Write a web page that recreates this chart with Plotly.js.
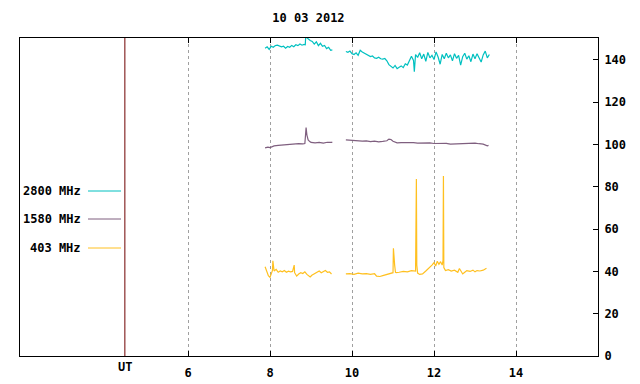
<!DOCTYPE html>
<html><head><meta charset="utf-8">
<script src="https://cdn.plot.ly/plotly-3.0.1.min.js"></script>
<style>html,body{margin:0;padding:0;background:#fff}#chart{width:640px;height:384px}</style>
</head><body><div id="chart"></div>
<script>
// Time in UT hours; null splits the gap in observation
var hours2800 = [7.88,7.93,7.98,8.03,8.08,8.13,8.18,8.23,8.28,8.33,8.38,8.43,8.48,8.53,8.58,8.63,8.68,8.73,8.78,8.83,8.86,8.87,8.93,8.98,9.03,9.08,9.13,9.18,9.23,9.28,9.33,9.38,9.43,9.48,9.52,
  9.60,
  9.85,9.90,9.95,10.00,10.05,10.10,10.15,10.20,10.25,10.30,10.35,10.40,10.45,10.50,10.55,10.60,10.65,10.70,10.75,10.80,10.85,10.90,10.95,11.00,11.05,11.10,11.15,11.20,11.25,11.30,11.35,11.40,11.45,11.50,11.52,11.55,11.60,11.65,11.70,11.75,11.80,11.85,11.90,11.95,12.00,12.05,12.10,12.15,12.20,12.25,12.30,12.35,12.40,12.45,12.50,12.55,12.60,12.65,12.70,12.75,12.80,12.85,12.90,12.95,13.00,13.05,13.10,13.15,13.20,13.25,13.30,13.35];
var flux2800 = [145.5,146.2,145.0,146.5,146.0,146.8,147.0,146.7,146.2,146.5,145.6,146.4,146.0,146.9,146.3,147.2,146.8,147.6,147.0,147.4,147.2,151,150,149.2,148.8,147.5,148.6,146.8,147.9,146.5,146.9,145.4,146.0,144.6,144.8,
  null,
  144.0,143.6,144.2,143.0,142.6,143.4,142.2,144.6,143.8,143.2,142.7,142.0,141.6,141.9,141.0,140.8,141.3,140.6,140.4,140.7,139.6,137.8,137.0,136.2,137.4,135.9,136.6,137.2,136.4,138.2,137.6,139.5,141.8,139.8,134.5,142.6,141.2,143.4,140.6,142.8,139.4,143.6,141.0,142.2,140.2,143.8,141.4,138.0,142.6,140.6,143.2,141.0,142.4,139.6,143.0,140.8,142.2,137.6,141.6,143.2,140.4,142.0,139.2,142.8,140.6,143.0,141.2,139.0,142.4,144.2,141.0,142.6];

var hours1580 = [7.88,7.95,8.0,8.1,8.2,8.3,8.4,8.5,8.6,8.7,8.8,8.85,8.87,8.88,8.9,8.93,8.97,9.0,9.1,9.2,9.3,9.4,9.5,9.52,
  9.60,
  9.85,9.95,10.05,10.15,10.25,10.35,10.45,10.55,10.65,10.75,10.85,10.9,10.95,11.0,11.05,11.1,11.2,11.3,11.4,11.5,11.6,11.7,11.8,11.9,12.0,12.1,12.2,12.3,12.4,12.5,12.6,12.7,12.8,12.9,13.0,13.1,13.2,13.3,13.33];
var flux1580 = [98.4,98.8,98.6,99.4,99.6,99.8,100.0,100.2,100.1,100.4,100.3,100.5,105.5,108.0,104.5,102.2,101.4,101.0,100.8,101.0,100.7,101.1,101.0,101.2,
  null,
  102.2,102.0,101.8,101.9,101.6,101.7,101.4,101.6,101.3,101.5,101.8,102.6,102.4,101.6,101.0,100.8,100.9,101.0,100.8,100.9,100.7,100.8,100.6,100.8,100.5,100.6,100.4,100.6,100.2,100.3,100.5,100.4,100.6,100.5,100.7,100.4,100.2,99.4,99.6];

var hours403 = [7.88,7.90,7.93,7.96,8.0,8.03,8.06,8.07,8.10,8.15,8.20,8.25,8.30,8.35,8.40,8.45,8.50,8.55,8.59,8.60,8.65,8.70,8.75,8.80,8.85,8.90,8.95,8.98,9.02,9.08,9.15,9.20,9.25,9.30,9.35,9.40,9.45,9.50,
  9.60,
  9.85,9.95,10.05,10.15,10.25,10.35,10.45,10.55,10.60,10.68,10.75,10.82,10.90,10.97,11.00,11.01,11.02,11.04,11.06,11.08,11.15,11.25,11.35,11.45,11.55,11.57,11.58,11.60,11.65,11.72,11.80,11.85,11.90,11.95,12.00,12.04,12.08,12.12,12.16,12.20,12.22,12.23,12.24,12.28,12.35,12.42,12.50,12.58,12.62,12.66,12.70,12.75,12.80,12.88,12.95,13.00,13.05,13.12,13.20,13.28,13.35];
var flux403 = [42.2,41.0,39.2,38.0,37.2,39.0,40.5,45.0,40.2,41.0,39.6,40.2,39.8,40.4,39.6,40.1,39.8,40.0,43.0,39.4,37.8,38.8,39.4,39.0,39.8,38.6,38.0,37.4,38.2,39.0,39.6,40.2,39.4,40.0,40.4,39.6,39.8,38.8,
  null,
  38.8,39.0,38.6,39.2,38.8,39.0,38.6,38.9,37.8,37.6,38.0,38.4,38.8,39.0,39.4,51.0,45.0,43.0,39.6,39.4,39.6,40.0,39.8,40.4,40.2,83.7,43.0,39.2,38.6,38.8,40.2,41.0,42.0,43.0,44.2,42.6,44.8,43.4,44.6,43.0,45.2,85.1,41.8,40.4,40.8,40.2,40.6,39.6,41.4,40.2,38.8,39.6,40.4,40.0,40.6,39.8,40.4,40.2,40.6,41.5];

var seriesNames = ['2800 MHz','1580 MHz','403 MHz'];
var seriesColors = ['#00c0c0','#7f5f7f','#ffc020'];
var xTickVals = [6,8,10,12,14];
var yTickVals = [0,20,40,60,80,100,120,140];
var utPosition = 4.46;
var titleText = '10 03 2012';

var font = {family:'DejaVu Sans Mono, Liberation Mono, monospace', size:12, color:'#000'};

var traces = [
  {x:hours2800, y:flux2800, name:seriesNames[0], line:{color:seriesColors[0], width:1.2}},
  {x:hours1580, y:flux1580, name:seriesNames[1], line:{color:seriesColors[1], width:1.2}},
  {x:hours403, y:flux403, name:seriesNames[2], line:{color:seriesColors[2], width:1.2}}
].map(function(t){t.type='scatter'; t.mode='lines'; t.connectgaps=false; t.hoverinfo='skip'; return t;});

var shapes = [
  {type:'line', xref:'x', yref:'paper', x0:utPosition, x1:utPosition, y0:0, y1:1, line:{color:'#700000', width:1}}
];
var annotations = [
  {xref:'x', yref:'paper', x:utPosition, y:0, yshift:-20, text:'<b>UT</b>', showarrow:false, font:font}
];
var legendY = [191,219,248];
for (var i=0;i<3;i++){
  var py = 1 - (legendY[i]-38)/318;
  shapes.push({type:'line', xref:'paper', yref:'paper', x0:(88-20)/578, x1:(121-20)/578, y0:py, y1:py, line:{color:seriesColors[i], width:1}});
  annotations.push({xref:'paper', yref:'paper', x:(83-20)/578, y:py, xanchor:'right', yanchor:'middle', text:'<b>'+seriesNames[i]+'</b>', showarrow:false, font:font});
}

var layout = {
  width:640, height:384,
  margin:{l:20, r:42, t:38, b:28},
  paper_bgcolor:'#fff', plot_bgcolor:'#fff',
  showlegend:false,
  font:font,
  title:{text:'<b>'+titleText+'</b>', font:font, x:0.482, xanchor:'center', y:1-18/384, yanchor:'middle', yref:'container'},
  xaxis:{range:[1.902,16.0], tickvals:xTickVals, ticktext:xTickVals.map(String), ticks:'inside', ticklen:5, tickcolor:'#000',
    ticklabelstandoff:6,
    showgrid:true, gridcolor:'#a0a0a0', griddash:'dot', gridwidth:1, zeroline:false,
    showline:true, linecolor:'#000', linewidth:1, mirror:'ticks', tickfont:{family:font.family,size:12,color:'#000',weight:'bold'}},
  yaxis:{range:[0,150.4], side:'right', tickvals:yTickVals, ticks:'inside', ticklen:5, tickcolor:'#000',
    ticklabelstandoff:3,
    showgrid:false, zeroline:false, showline:true, linecolor:'#000', linewidth:1, mirror:true,
    tickfont:{family:font.family,size:12,color:'#000',weight:'bold'}},
  shapes:shapes, annotations:annotations
};
Plotly.newPlot('chart', traces, layout, {staticPlot:true, displayModeBar:false});
</script></body></html>
